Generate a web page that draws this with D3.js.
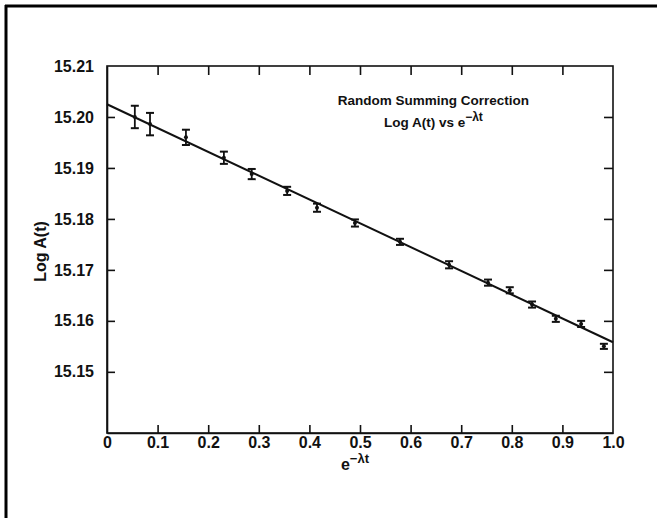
<!DOCTYPE html>
<html>
<head>
<meta charset="utf-8">
<script src="https://cdn.jsdelivr.net/npm/d3@7"></script>
<style>
  body { margin: 0; background: #fff; }
  text { font-family: "Liberation Sans", Arial, sans-serif; font-weight: bold; fill: #111; }
  .axis path, .axis line { stroke: #111; stroke-width: 1.6; }
</style>
</head>
<body>
<div id="chart"></div>
<script>
// Values
var xValues = [0.055, 0.085, 0.156, 0.231, 0.286, 0.356, 0.415, 0.49, 0.579, 0.676, 0.753, 0.796, 0.84, 0.887, 0.937, 0.982];
var logA    = [15.2000, 15.1986, 15.1960, 15.1920, 15.1888, 15.1855, 15.1822, 15.1792, 15.1755, 15.1710, 15.1675, 15.1660, 15.1632, 15.1604, 15.1594, 15.1550];
var errors  = [0.0022, 0.0022, 0.0015, 0.0012, 0.0010, 0.0008, 0.0008, 0.0007, 0.0006, 0.0007, 0.0006, 0.0006, 0.0006, 0.0006, 0.0006, 0.0005];
var fitLine = [[0, 15.2025], [1.0, 15.1558]];
var xTicks = [0, 0.1, 0.2, 0.3, 0.4, 0.5, 0.6, 0.7, 0.8, 0.9, 1.0];
var yTicks = [15.15, 15.16, 15.17, 15.18, 15.19, 15.20, 15.21];

const W = 657, H = 518;
const margin = {top: 66, right: 44, bottom: 85, left: 107};
const width = W - margin.left - margin.right;
const height = H - margin.top - margin.bottom;

var svg = d3.select("#chart").append("svg")
    .attr("width", W)
    .attr("height", H);

// page frame (top and left edges only, the rest is cropped)
svg.append("line").attr("x1", 5).attr("y1", 6).attr("x2", W).attr("y2", 6)
    .attr("stroke", "#000").attr("stroke-width", 3);
svg.append("line").attr("x1", 6).attr("y1", 5).attr("x2", 6).attr("y2", H)
    .attr("stroke", "#000").attr("stroke-width", 3);

var vis = svg.append("g")
    .attr("transform", "translate(" + margin.left + "," + margin.top + ")");

var x_scale = d3.scaleLinear().domain([0, 1.0]).range([0, width]);
var y_scale = d3.scaleLinear().domain([15.138, 15.21]).range([height, 0]);

// box
vis.append("rect")
    .attr("width", width).attr("height", height)
    .attr("fill", "none").attr("stroke", "#111").attr("stroke-width", 1.6);

// bottom axis, ticks pointing in
var x_axis = d3.axisBottom(x_scale)
    .tickValues(xTicks)
    .tickSizeInner(-8).tickSizeOuter(0)
    .tickPadding(4)
    .tickFormat((d) => d === 0 ? "0" : d3.format(".1f")(d));
var gx = vis.append("g").attr("class", "axis")
    .attr("transform", "translate(0," + height + ")")
    .call(x_axis);
gx.selectAll("text").style("font-size", "16px");
gx.selectAll(".tick").filter((d) => d === 0 || d === 1).select("line").remove();

// top axis ticks
var gxt = vis.append("g").attr("class", "axis")
    .call(d3.axisTop(x_scale).tickValues(xTicks.slice(1, 10)).tickSizeInner(-9).tickSizeOuter(0).tickFormat(""));
gxt.select(".domain").remove();

// left axis
var y_axis = d3.axisLeft(y_scale)
    .tickValues(yTicks)
    .tickSizeInner(-8).tickSizeOuter(0)
    .tickPadding(13)
    .tickFormat(d3.format(".2f"));
var gy = vis.append("g").attr("class", "axis").call(y_axis);
gy.selectAll("text").style("font-size", "16px");
gy.selectAll(".tick").filter((d) => d === 15.21).select("line").remove();

// right axis ticks
var gyr = vis.append("g").attr("class", "axis")
    .attr("transform", "translate(" + width + ",0)")
    .call(d3.axisRight(y_scale).tickValues(yTicks.slice(0, 6)).tickSizeInner(-9).tickSizeOuter(0).tickFormat(""));
gyr.select(".domain").remove();

// fitted line
vis.append("line")
    .attr("x1", x_scale(fitLine[0][0])).attr("y1", y_scale(fitLine[0][1]))
    .attr("x2", x_scale(fitLine[1][0])).attr("y2", y_scale(fitLine[1][1]))
    .attr("stroke", "#111").attr("stroke-width", 2);

// error bars
var pts = vis.append("g").selectAll("g.pt")
    .data(xValues.map((d, i) => ({x: d, y: logA[i], e: errors[i]})))
    .enter().append("g").attr("class", "pt");

pts.append("line")
    .attr("x1", (d) => x_scale(d.x)).attr("x2", (d) => x_scale(d.x))
    .attr("y1", (d) => y_scale(d.y + d.e)).attr("y2", (d) => y_scale(d.y - d.e))
    .attr("stroke", "#111").attr("stroke-width", 1.8);
[1, -1].forEach(function(s){
    pts.append("line")
        .attr("x1", (d) => x_scale(d.x) - 4).attr("x2", (d) => x_scale(d.x) + 4)
        .attr("y1", (d) => y_scale(d.y + s * d.e)).attr("y2", (d) => y_scale(d.y + s * d.e))
        .attr("stroke", "#111").attr("stroke-width", 2);
});
pts.append("circle")
    .attr("cx", (d) => x_scale(d.x)).attr("cy", (d) => y_scale(d.y))
    .attr("r", 2).attr("fill", "#111");

// annotation
var note = vis.append("g").attr("transform", "translate(" + x_scale(0.645) + ",0)");
note.append("text").attr("y", 39).attr("text-anchor", "middle")
    .style("font-size", "13.5px").text("Random Summing Correction");
var l2 = note.append("text").attr("y", 61).attr("text-anchor", "middle").style("font-size", "13.5px");
l2.append("tspan").text("Log A(t) vs e");
l2.append("tspan").attr("dy", -6).style("font-size", "12px").text("\u2212\u03bbt");

// axis titles
svg.append("text")
    .attr("transform", "translate(46," + (margin.top + height / 2 + 2) + ") rotate(-90)")
    .attr("text-anchor", "middle").style("font-size", "16px").text("Log A(t)");

var xl = svg.append("text")
    .attr("x", margin.left + x_scale(0.49)).attr("y", 470)
    .attr("text-anchor", "middle").style("font-size", "16px");
xl.append("tspan").text("e");
xl.append("tspan").attr("dy", -7).style("font-size", "13px").text("\u2212\u03bbt");
</script>
</body>
</html>
